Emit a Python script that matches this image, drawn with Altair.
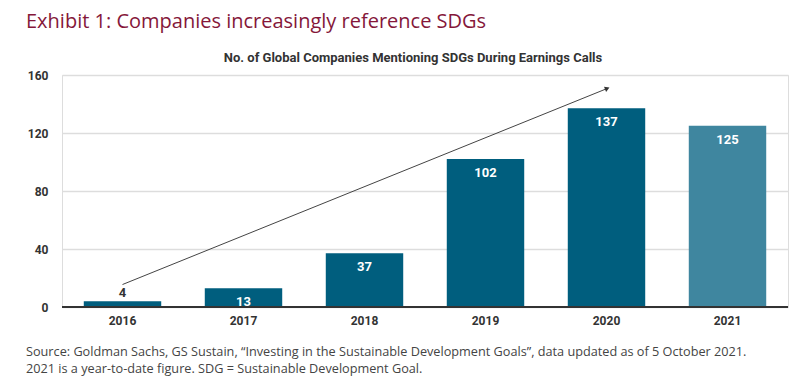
import altair as alt
import pandas as pd

years = ["2016", "2017", "2018", "2019", "2020", "2021"]
values = [4, 13, 37, 102, 137, 125]
kinds = ["full", "full", "full", "full", "full", "ytd"]

arrow_years = ["2016", "2020"]
arrow_values = [15.5, 150.5]

title_text = "Exhibit 1: Companies increasingly reference SDGs"
subtitle_text = "No. of Global Companies Mentioning SDGs During Earnings Calls"
foot_line1 = "Source: Goldman Sachs, GS Sustain, \u201cInvesting in the Sustainable Development Goals\u201d, data updated as of 5 October 2021."
foot_line2 = "2021 is a year-to-date figure. SDG = Sustainable Development Goal."

df = pd.DataFrame({"year": years, "value": values, "kind": kinds})
arrow_df = pd.DataFrame({"year": arrow_years, "value": arrow_values})

W, H = 726, 232

x_enc = alt.X("year:N", sort=years,
              scale=alt.Scale(paddingInner=0.36, paddingOuter=0.18),
              axis=alt.Axis(title=None, labelAngle=0, labelFont="Roboto", labelFontWeight="bold",
                            labelFontSize=12, labelColor="#333333", labelPadding=8,
                            ticks=False, domain=False))
y_enc = alt.Y("value:Q", scale=alt.Scale(domain=[0, 160], nice=False),
              axis=alt.Axis(title=None, values=[0, 40, 80, 120, 160], labelFont="Roboto",
                            labelFontWeight="bold", labelFontSize=12, labelColor="#333333",
                            labelPadding=14, ticks=False, domain=False,
                            gridColor="#dddddd", gridWidth=1.5))

base = alt.Chart(df)

bars = base.mark_bar().encode(
    x=x_enc, y=y_enc,
    color=alt.Color("kind:N", scale=alt.Scale(domain=["full", "ytd"], range=["#005e7e", "#3f869f"]), legend=None),
)

zero_line = alt.Chart(pd.DataFrame({"value": [0]})).mark_rule(color="#333333", strokeWidth=2).encode(y="value:Q")

inside = base.transform_filter("datum.value >= 10").mark_text(
    color="white", fontWeight="bold", fontSize=13, font="Roboto", baseline="middle", dy=14
).encode(x=alt.X("year:N", sort=years), y="value:Q", text="value:Q")

outside = base.transform_filter("datum.value < 10").mark_text(
    color="#333333", fontWeight="bold", fontSize=13, font="Roboto", baseline="bottom", dy=-1
).encode(x=alt.X("year:N", sort=years), y="value:Q", text="value:Q")

arrow_line = alt.Chart(arrow_df).mark_line(color="#444444", strokeWidth=1).encode(
    x=alt.X("year:N", sort=years), y="value:Q")
arrow_head = alt.Chart(arrow_df).transform_filter("datum.year == '2020'").mark_point(
    shape="triangle", filled=True, color="#333333", size=30, angle=67.7, opacity=1
).encode(x=alt.X("year:N", sort=years), y="value:Q")

title = alt.Chart(pd.DataFrame({"t": [title_text]})).mark_text(
    align="left", baseline="alphabetic", fontSize=20, font="Open Sans", color="#85173a"
).encode(x=alt.value(-36), y=alt.value(-47), text="t:N")

subtitle = alt.Chart(pd.DataFrame({"t": [subtitle_text]})).mark_text(
    align="center", baseline="alphabetic", fontSize=13, font="Roboto", fontWeight="bold", color="#333333"
).encode(x=alt.value(351), y=alt.value(-13), text="t:N")

foot1 = alt.Chart(pd.DataFrame({"t": [foot_line1]})).mark_text(
    align="left", baseline="alphabetic", fontSize=12.7, font="Open Sans", color="#444444"
).encode(x=alt.value(-36), y=alt.value(281), text="t:N")
foot2 = alt.Chart(pd.DataFrame({"t": [foot_line2]})).mark_text(
    align="left", baseline="alphabetic", fontSize=12.7, font="Open Sans", color="#444444"
).encode(x=alt.value(-36), y=alt.value(298), text="t:N")

chart = alt.layer(bars, zero_line, inside, outside, arrow_line, arrow_head, title, subtitle, foot1, foot2).properties(
    width=W, height=H,
    autosize=alt.AutoSizeParams(type="none"),
    padding={"left": 54, "top": 67, "right": 4, "bottom": 70},
).configure_view(stroke=None).configure(background="white")

chart.save("out.html", embed_options={"renderer": "svg", "actions": False})
